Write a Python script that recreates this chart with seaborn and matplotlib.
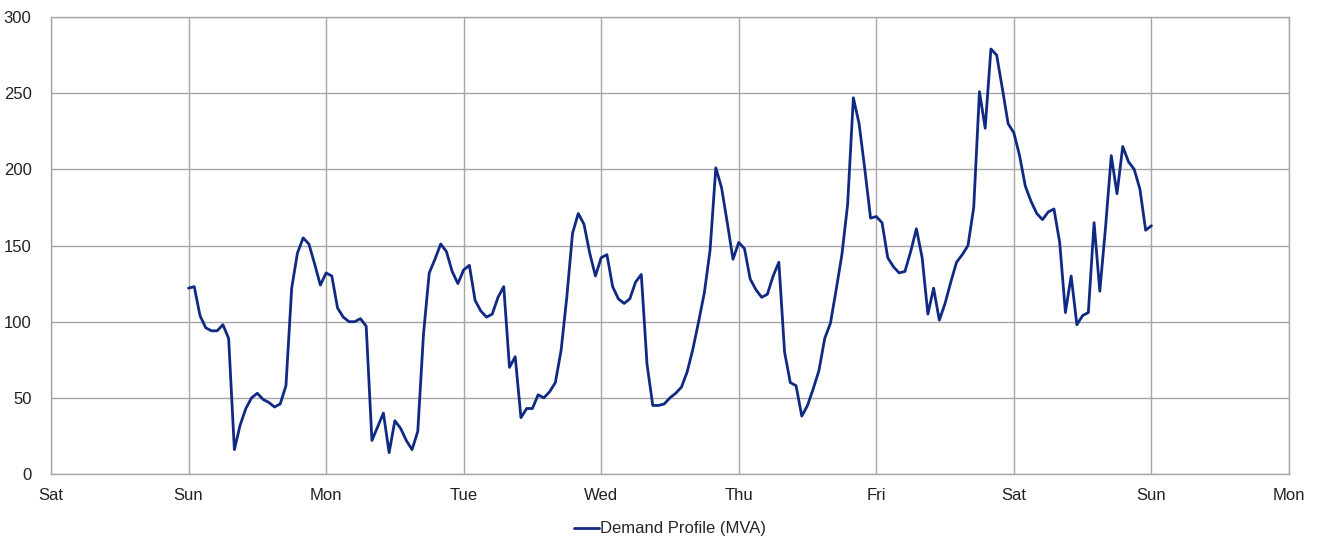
import numpy as np
import pandas as pd
import seaborn as sns
import matplotlib.pyplot as plt
import matplotlib as mpl

sns.set_style("white")
mpl.rc('font', family=['Liberation Sans', 'DejaVu Sans'], size=12)

day_labels = ["Sat", "Sun", "Mon", "Tue", "Wed", "Thu", "Fri", "Sat", "Sun", "Mon"]

# hourly demand (MVA), one list per day starting Sunday 00:00
sun = [122, 123, 104, 96, 94, 94, 98, 89, 16, 32, 43, 50, 53, 49, 47, 44, 46, 58, 122, 145, 155, 151, 138, 124]
mon = [132, 130, 109, 103, 100, 100, 102, 97, 22, 31, 40, 14, 35, 30, 22, 16, 28, 92, 132, 141, 151, 146, 133, 125]
tue = [134, 137, 114, 107, 103, 105, 116, 123, 70, 77, 37, 43, 43, 52, 50, 54, 60, 81, 116, 158, 171, 164, 145, 130]
wed = [142, 144, 123, 115, 112, 115, 126, 131, 72, 45, 45, 46, 50, 53, 57, 67, 82, 100, 119, 147, 201, 188, 165, 141]
thu = [152, 148, 128, 121, 116, 118, 130, 139, 80, 60, 58, 38, 45, 56, 68, 89, 99, 121, 144, 177, 247, 230, 200, 168]
fri = [169, 165, 142, 136, 132, 133, 146, 161, 142, 105, 122, 101, 112, 126, 139, 144, 150, 175, 251, 227, 279, 275, 253, 230]
sat = [224, 209, 189, 179, 171, 167, 172, 174, 152, 106, 130, 98, 104, 106, 165, 120, 162, 209, 184, 215, 205, 200, 187, 160]
last = [163]

demand = sun + mon + tue + wed + thu + fri + sat + last
hours = np.arange(len(demand)) + 24  # hours since Saturday 00:00

df = pd.DataFrame({"hour": hours, "Demand Profile (MVA)": demand})

fig, ax = plt.subplots(figsize=(13.17, 5.4), dpi=100)
fig.subplots_adjust(left=0.0387, right=0.9787, top=0.9685, bottom=0.1222)

sns.lineplot(data=df, x="hour", y="Demand Profile (MVA)", color="#102a83",
             linewidth=2, label="Demand Profile (MVA)", ax=ax)

ax.set_xlim(0, 216)
ax.set_ylim(0, 300)
ax.set_xticks(np.arange(0, 217, 24))
ax.set_xticklabels(day_labels)
ax.set_yticks(np.arange(0, 301, 50))
ax.set_xlabel("")
ax.set_ylabel("")
ax.grid(True, color="#a6a6a6", linewidth=1)
ax.tick_params(axis="y", length=0, pad=14, colors="#222222")
ax.tick_params(axis="x", length=0, pad=10, colors="#222222")
for s in ax.spines.values():
    s.set_color("#a6a6a6")
    s.set_linewidth(1)

leg = ax.legend(loc="center", bbox_to_anchor=(0.5, -0.12), frameon=False,
                handlelength=1.5, handletextpad=0.05)

plt.savefig("out.png", dpi=100)
plt.close()
